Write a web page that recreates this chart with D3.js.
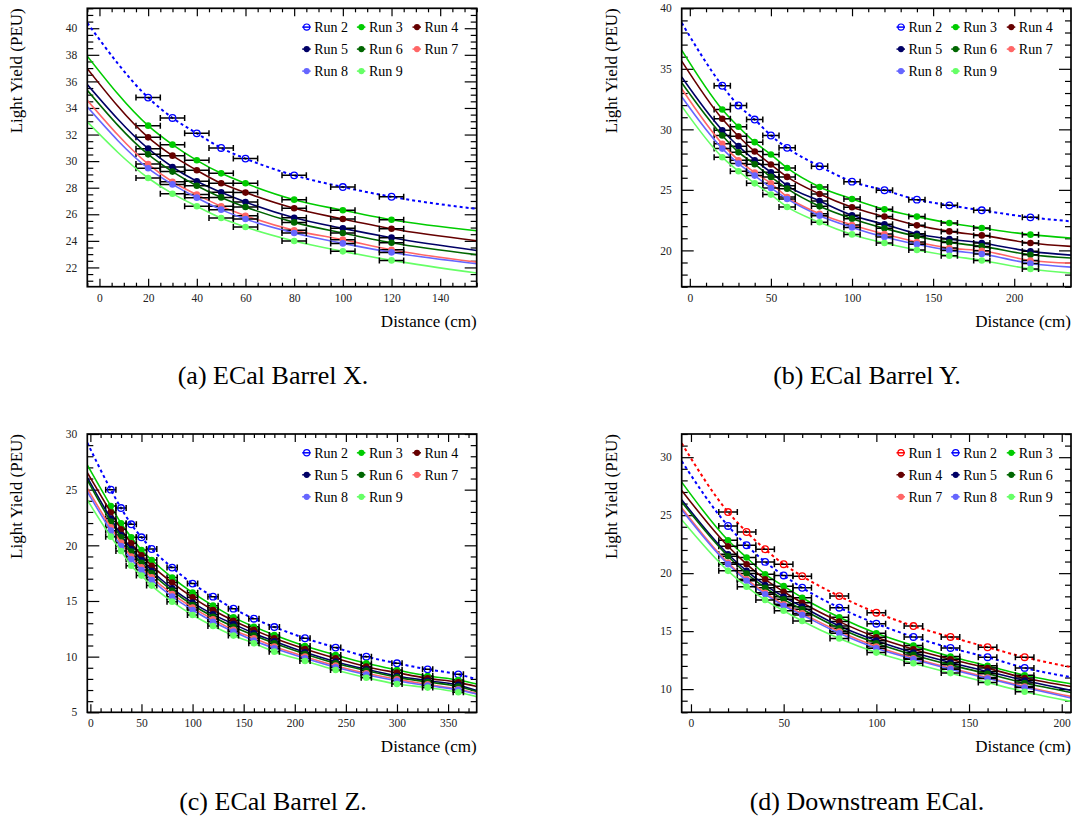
<!DOCTYPE html>
<html><head><meta charset="utf-8">
<script src="https://cdn.jsdelivr.net/npm/d3@7"></script>
<style>
body{margin:0;background:#fff}
svg{display:block}
text{font-family:"Liberation Serif","Times New Roman",serif}
</style>
</head><body>
<svg id="fig" width="1074" height="818"></svg>
<script>
// ---------------- DATA ----------------
const captions = ["(a) ECal Barrel X.", "(b) ECal Barrel Y.", "(c) ECal Barrel Z.", "(d) Downstream ECal."];
const xTitle = "Distance (cm)";
const yTitle = "Light Yield (PEU)";

// (a) ECal Barrel X
const distA = [20,30,40,50,60,80,100,120];
const runsA = [2,3,4,5,6,7,8,9];
const yieldA = [
  [34.78,33.25,32.09,30.99,30.19,28.93,28.05,27.32],
  [32.67,31.24,30.06,29.08,28.33,27.10,26.30,25.59],
  [31.79,30.41,29.31,28.33,27.63,26.45,25.64,24.91],
  [30.94,29.56,28.48,27.65,26.92,25.74,24.94,24.24],
  [30.51,29.21,28.15,27.27,26.55,25.39,24.59,23.86],
  [29.78,28.45,27.48,26.60,25.89,24.79,24.09,23.33],
  [29.46,28.25,27.25,26.35,25.64,24.59,23.81,23.13],
  [28.73,27.55,26.60,25.72,25.04,23.99,23.21,22.53]
];
// fit value at left and right frame edges
const fitEdgesA = [[40.40,26.40],[37.90,24.76],[36.96,24.01],[35.76,23.28],[35.33,22.96],[34.58,22.40],[34.08,22.28],[32.95,21.58]];

// (b) ECal Barrel Y
const distB = [20,30,40,50,60,80,100,120,140,160,180,210];
const runsB = [2,3,4,5,6,7,8,9];
const yieldB = [
  [33.60,31.97,30.81,29.49,28.47,26.95,25.68,24.97,24.19,23.72,23.31,22.73],
  [31.64,30.21,28.94,27.92,26.81,25.24,24.25,23.39,22.79,22.26,21.85,21.30],
  [30.87,29.43,28.17,27.09,26.07,24.66,23.56,22.79,22.07,21.57,21.24,20.61],
  [29.93,28.61,27.45,26.45,25.35,24.08,22.90,22.15,21.38,20.94,20.61,19.92],
  [29.49,28.11,27.12,26.07,25.10,23.64,22.62,21.82,21.16,20.66,20.33,19.64],
  [28.80,27.45,26.43,25.54,24.41,23.03,22.10,21.35,20.69,20.19,19.97,19.17],
  [28.41,27.17,26.18,25.16,24.25,22.87,21.90,21.10,20.50,20.00,19.70,18.92],
  [27.70,26.54,25.54,24.61,23.59,22.32,21.32,20.61,20.03,19.56,19.17,18.46]
];
const fitEdgesB = [[38.80,22.40],[36.55,21.02],[35.64,20.33],[34.32,19.61],[33.85,19.37],[33.35,18.95],[32.69,18.62],[31.92,18.12]];

// (c) ECal Barrel Z
const distC = [20,30,40,50,60,80,100,120,140,160,180,210,240,270,300,330,360];
const runsC = [2,3,4,5,6,7,8,9];
const yieldC = [
  [25.00,23.35,21.89,20.72,19.67,18.00,16.56,15.39,14.31,13.41,12.66,11.65,10.81,10.00,9.40,8.86,8.41],
  [23.53,21.98,20.72,19.58,18.68,17.10,15.75,14.58,13.53,12.69,11.95,10.96,10.15,9.40,8.80,8.26,7.90],
  [22.96,21.44,20.18,19.10,18.17,16.65,15.33,14.19,13.23,12.40,11.65,10.69,9.85,9.10,8.56,8.05,7.69],
  [22.40,20.93,19.67,18.68,17.72,16.14,14.85,13.80,12.93,12.10,11.38,10.39,9.55,8.86,8.26,7.84,7.46],
  [22.13,20.72,19.43,18.44,17.49,15.93,14.64,13.59,12.69,11.92,11.20,10.24,9.40,8.74,8.14,7.72,7.31],
  [21.62,20.24,18.98,18.02,17.13,15.63,14.40,13.35,12.40,11.65,10.90,10.00,9.19,8.50,7.96,7.51,7.07],
  [21.32,19.94,18.74,17.78,16.89,15.39,14.19,13.14,12.25,11.44,10.75,9.85,9.04,8.38,7.84,7.40,7.01],
  [20.78,19.49,18.17,17.28,16.38,14.94,13.74,12.75,11.89,11.20,10.45,9.61,8.80,8.11,7.54,7.22,6.80]
];
const fitEdgesC = [[29.22,7.96],[27.22,7.54],[26.53,7.31],[26.11,6.95],[25.87,6.86],[25.12,6.71],[24.82,6.65],[24.07,6.41]];

// (d) Downstream ECal
const distD = [20,30,40,50,60,80,100,120,140,160,180];
const runsD = [1,2,3,4,5,6,7,8,9];
const yieldD = [
  [25.27,23.55,22.06,20.77,19.74,18.02,16.59,15.44,14.50,13.61,12.75],
  [24.07,22.41,20.97,19.80,18.74,17.02,15.64,14.50,13.55,12.75,11.83],
  [22.84,21.35,19.91,18.88,17.88,16.19,14.81,13.75,12.81,12.01,11.20],
  [22.32,20.77,19.46,18.40,17.45,15.82,14.47,13.44,12.58,11.81,10.95],
  [21.63,20.20,18.97,17.97,17.11,15.44,14.18,13.15,12.29,11.52,10.74],
  [21.46,19.97,18.74,17.74,16.88,15.24,13.95,12.95,12.09,11.32,10.52],
  [20.89,19.48,18.31,17.31,16.53,14.96,13.67,12.66,11.81,11.00,10.23],
  [20.77,19.34,18.17,17.19,16.39,14.81,13.52,12.58,11.72,10.92,10.14],
  [20.20,18.83,17.68,16.76,15.87,14.36,13.15,12.23,11.38,10.57,9.77]
];
const fitEdgesD = [[31.20,11.89],[29.66,11.03],[27.85,10.46],[27.13,10.23],[26.33,9.89],[26.13,9.71],[25.64,9.37],[25.47,9.23],[24.61,8.94]];

const xErr = 5; // cm, horizontal error half-width

// ---------------- STYLE / LAYOUT ----------------
const runColors = {1:"#ff0000",2:"#0000ff",3:"#00cc00",4:"#660000",5:"#000066",6:"#006600",7:"#ff6666",8:"#6666ff",9:"#66ff66"};
const openRuns = [1,2];

const panels = [
  {id:"a", dist:distA, runs:runsA, yields:yieldA, edges:fitEdgesA, caption:captions[0],
   box:[87.3,8.3,476.7,286.7], xDom:[-5,155], yDom:[20.55,41.5], xt:[20,5], yt:[2,0.5], capX:273},
  {id:"b", dist:distB, runs:runsB, yields:yieldB, edges:fitEdgesB, caption:captions[1],
   box:[681.7,8.3,1071,286.7], xDom:[-5,235], yDom:[17,40], xt:[50,10], yt:[5,1], capX:867},
  {id:"c", dist:distC, runs:runsC, yields:yieldC, edges:fitEdgesC, caption:captions[2],
   box:[87.3,434,476.7,712.3], xDom:[-3,378], yDom:[5,30], xt:[50,10], yt:[5,1], capX:273},
  {id:"d", dist:distD, runs:runsD, yields:yieldD, edges:fitEdgesD, caption:captions[3],
   box:[681.7,434,1071,712.3], xDom:[-5,205], yDom:[8,32], xt:[50,10], yt:[5,1], capX:867}
];

const FONT = '"Liberation Serif","Times New Roman",serif';
const svg = d3.select("#fig");
svg.append("rect").attr("width",1074).attr("height",818).attr("fill","#fff");

function ticksOf(dom, step){
  const s = Math.ceil(dom[0]/step - 1e-9), e = Math.floor(dom[1]/step + 1e-9);
  return d3.range(s, e+1).map(i => +(i*step).toFixed(6));
}

function styleAxis(sel, withLabels){
  sel.attr("font-family", FONT).attr("font-size", 11.5);
  sel.select(".domain").remove();
  sel.selectAll(".tick line").attr("stroke","#000").attr("stroke-width",1.2);
  if (withLabels) sel.selectAll(".tick text").attr("fill","#222");
  else sel.selectAll(".tick text").remove();
}

panels.forEach(p => {
  const [L,T,R,B] = p.box;
  const x = d3.scaleLinear().domain(p.xDom).range([L,R]);
  const y = d3.scaleLinear().domain(p.yDom).range([B,T]);
  const g = svg.append("g");
  const clipId = "clip-" + p.id;
  g.append("clipPath").attr("id", clipId).append("rect")
    .attr("x", L).attr("y", T).attr("width", R-L).attr("height", B-T);

  const xMaj = ticksOf(p.xDom, p.xt[0]);
  const xMin = ticksOf(p.xDom, p.xt[1]).filter(v => !xMaj.includes(v));
  const yMaj = ticksOf(p.yDom, p.yt[0]);
  const yMin = ticksOf(p.yDom, p.yt[1]).filter(v => !yMaj.includes(v));
  const fmt = d3.format("d");

  // axes (ticks inside the frame, mirrored on top/right)
  g.append("g").attr("transform",`translate(0,${B})`)
    .call(d3.axisBottom(x).tickValues(xMaj).tickSize(-8).tickPadding(7).tickFormat(fmt)).call(s=>styleAxis(s,true));
  g.append("g").attr("transform",`translate(0,${B})`)
    .call(d3.axisBottom(x).tickValues(xMin).tickSize(-4).tickFormat("")).call(s=>styleAxis(s,false));
  g.append("g").attr("transform",`translate(0,${T})`)
    .call(d3.axisTop(x).tickValues(xMaj).tickSize(-8).tickFormat("")).call(s=>styleAxis(s,false));
  g.append("g").attr("transform",`translate(0,${T})`)
    .call(d3.axisTop(x).tickValues(xMin).tickSize(-4).tickFormat("")).call(s=>styleAxis(s,false));
  g.append("g").attr("transform",`translate(${L},0)`)
    .call(d3.axisLeft(y).tickValues(yMaj).tickSize(-12).tickPadding(10).tickFormat(fmt)).call(s=>styleAxis(s,true));
  g.append("g").attr("transform",`translate(${L},0)`)
    .call(d3.axisLeft(y).tickValues(yMin).tickSize(-6).tickFormat("")).call(s=>styleAxis(s,false));
  g.append("g").attr("transform",`translate(${R},0)`)
    .call(d3.axisRight(y).tickValues(yMaj).tickSize(-12).tickFormat("")).call(s=>styleAxis(s,false));
  g.append("g").attr("transform",`translate(${R},0)`)
    .call(d3.axisRight(y).tickValues(yMin).tickSize(-6).tickFormat("")).call(s=>styleAxis(s,false));

  // series
  const plot = g.append("g").attr("clip-path", `url(#${clipId})`);
  const line = d3.line().x(d => x(d[0])).y(d => y(d[1])).curve(d3.curveMonotoneX);
  p.runs.forEach((run, i) => {
    const col = runColors[run];
    const open = openRuns.includes(run);
    const vals = p.yields[i];
    const pts = p.dist.map((d,k) => [d, vals[k]]);
    const fitPts = [[p.xDom[0], p.edges[i][0]], ...pts, [p.xDom[1], p.edges[i][1]]];
    const sg = plot.append("g");
    sg.append("path").attr("d", line(fitPts)).attr("fill","none").attr("stroke", col)
      .attr("stroke-width", open ? 2 : 1.6)
      .attr("stroke-dasharray", open ? "3,3" : null);
    // error bars
    const eb = sg.append("g").attr("stroke","#000").attr("stroke-width",1.5);
    pts.forEach(([d,v]) => {
      const x0 = x(d - xErr), x1 = x(d + xErr), yy = y(v);
      eb.append("line").attr("x1",x0).attr("x2",x1).attr("y1",yy).attr("y2",yy);
      eb.append("line").attr("x1",x0).attr("x2",x0).attr("y1",yy-3).attr("y2",yy+3);
      eb.append("line").attr("x1",x1).attr("x2",x1).attr("y1",yy-3).attr("y2",yy+3);
    });
    sg.selectAll("circle").data(pts).join("circle")
      .attr("cx", d => x(d[0])).attr("cy", d => y(d[1])).attr("r", 3.3)
      .attr("fill", open ? "none" : col)
      .attr("stroke", open ? col : "none").attr("stroke-width", 1.3);
  });

  // frame
  g.append("rect").attr("x",L).attr("y",T).attr("width",R-L).attr("height",B-T)
    .attr("fill","none").attr("stroke","#000").attr("stroke-width",1.7);

  // legend
  const colOff = [-170, -115.3, -59.7];
  const rowOff = [18.8, 40.8, 62.8];
  const lg = g.append("g");
  p.runs.forEach((run, i) => {
    const cx = R + colOff[i % 3], cy = T + rowOff[Math.floor(i / 3)];
    const col = runColors[run];
    const open = openRuns.includes(run);
    lg.append("line").attr("x1",cx-4.5).attr("x2",cx+4).attr("y1",cy).attr("y2",cy)
      .attr("stroke",col).attr("stroke-width",1.5);
    lg.append("circle").attr("cx",cx).attr("cy",cy).attr("r",3.1)
      .attr("fill", open ? "none" : col).attr("stroke", open ? col : "none").attr("stroke-width",1.2);
    lg.append("text").attr("x", cx+7.5).attr("y", cy+5).attr("font-size",14)
      .attr("fill","#000").text("Run " + run);
  });

  // axis titles
  g.append("text").attr("x",R).attr("y",B+40).attr("text-anchor","end")
    .attr("font-size",17).attr("fill","#000").text(xTitle);
  g.append("text").attr("transform",`translate(${L-65},${T}) rotate(-90)`)
    .attr("text-anchor","end").attr("font-size",17).attr("fill","#000").text(yTitle);

  // caption
  g.append("text").attr("x",p.capX).attr("y",T+375.7).attr("text-anchor","middle")
    .attr("font-size",26).attr("fill","#000").text(p.caption);
});
</script>
</body></html>
